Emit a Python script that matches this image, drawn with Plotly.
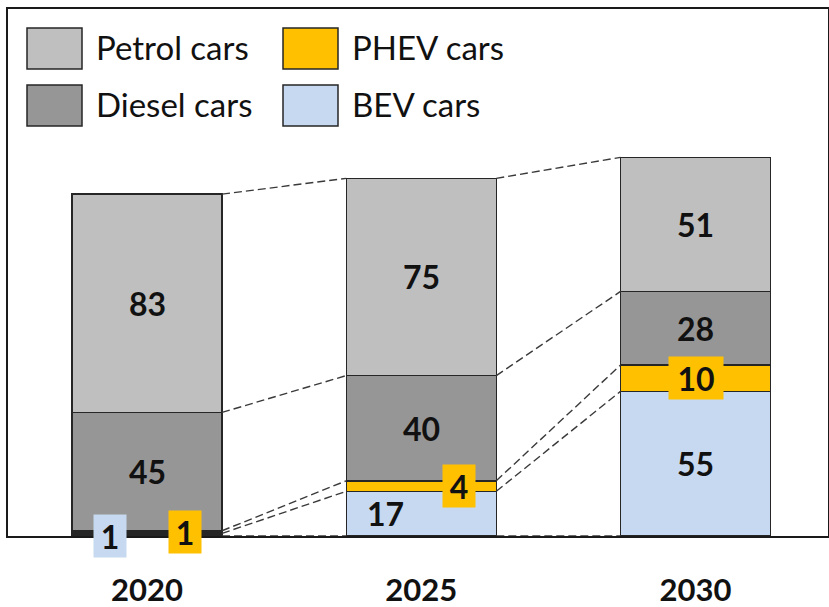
import plotly.graph_objects as go

# data (million cars)
years = ["2020", "2025", "2030"]
bev = [1, 17, 55]
phev = [1, 4, 10]
diesel = [45, 40, 28]
petrol = [83, 75, 51]

series = [
    ("BEV cars", bev, "#c6d9f0"),
    ("PHEV cars", phev, "#ffc000"),
    ("Diesel cars", diesel, "#969696"),
    ("Petrol cars", petrol, "#bfbfbf"),
]

FONT = "Lato"
OUTLINE = "#262626"
BAR_W = 0.547
W, H = 829, 607
L, R, T, B = 8, 1, 9, 71

xs = list(range(len(years)))

fig = go.Figure()
for name, vals, color in series:
    # thin slivers read as a heavy black edge in the original
    widths = [2.5 if v < 3 else 1.5 for v in vals]
    fig.add_trace(go.Bar(
        x=xs, y=vals, name=name, width=BAR_W,
        marker=dict(color=color, line=dict(color=OUTLINE, width=widths)),
        showlegend=False,
    ))

# cumulative boundaries per year for the dashed connectors
bounds = []
for i in xs:
    acc = [0]
    for _, vals, _ in series:
        acc.append(acc[-1] + vals[i])
    bounds.append(acc)

for i in xs[:-1]:
    for k in range(len(bounds[i])):
        fig.add_trace(go.Scatter(
            x=[i + BAR_W / 2, i + 1 - BAR_W / 2],
            y=[bounds[i][k], bounds[i + 1][k]],
            mode="lines", line=dict(color="#3a3a3a", width=1.4, dash="8px,4px"),
            showlegend=False, hoverinfo="skip",
        ))

# value labels
lab_font = dict(family=FONT, size=32, color="#111111")
boxed = {("BEV cars", 0): (-37, 0, 30), ("PHEV cars", 0): (38, 4, 30),
         ("PHEV cars", 1): (38, 0, 30), ("PHEV cars", 2): (0, 0, 52)}
offset = {("BEV cars", 1): -36}
for s, (name, vals, color) in enumerate(series):
    for i in xs:
        key = (name, i)
        yc = bounds[i][s] + vals[i] / 2
        text = "<b>%d</b>" % vals[i]
        if key in boxed:
            dx, dy, bw = boxed[key]
            if i == 0:
                yc = 0
            fig.add_annotation(x=i, y=yc, xref="x", yref="y", text=text, showarrow=False,
                               font=lab_font, bgcolor=color, width=bw, height=40,
                               xshift=dx, yshift=dy)
        else:
            fig.add_annotation(x=i, y=yc, xref="x", yref="y", text=text, showarrow=False,
                               font=lab_font, xshift=offset.get(key, 0))

# legend drawn as swatches + text
pw, ph = W - L - R, H - T - B


def px(x):
    return (x - L) / pw


def py(y):
    return (H - B - y) / ph


legend_items = [
    ("Petrol cars", "#bfbfbf", 27, 28),
    ("Diesel cars", "#969696", 27, 85),
    ("PHEV cars", "#ffc000", 283, 28),
    ("BEV cars", "#c6d9f0", 283, 85),
]
for name, color, lx, ly in legend_items:
    fig.add_shape(type="rect", xref="paper", yref="paper",
                  x0=px(lx), x1=px(lx + 55), y0=py(ly), y1=py(ly + 41),
                  fillcolor=color, line=dict(color=OUTLINE, width=1.5))
    fig.add_annotation(xref="paper", yref="paper", x=px(lx + 67), y=py(ly + 19),
                       xanchor="left", yanchor="middle", text=name, showarrow=False,
                       font=dict(family=FONT, size=33, color="#111111"))

fig.update_layout(
    barmode="stack",
    width=W, height=H, autosize=False,
    margin=dict(l=L, r=R, t=T, b=B),
    plot_bgcolor="white", paper_bgcolor="white",
    xaxis=dict(range=[-0.507, 2.483], tickvals=xs, ticktext=["<b>%s</b>" % y for y in years],
               tickfont=dict(family=FONT, size=31, color="#111111"), ticks="",
               ticklabelstandoff=26, showgrid=False, zeroline=False, automargin=False,
               showline=True, mirror=True, linecolor="#1a1a1a", linewidth=1.5),
    yaxis=dict(range=[0, 200.4], showticklabels=False, ticks="", showgrid=False, zeroline=False,
               automargin=False,
               showline=True, mirror=True, linecolor="#1a1a1a", linewidth=1.5),
)

# drop the browser's default body margin so the figure fills the window exactly
fig.write_html("out.html", config={"displayModeBar": False},
               post_script="document.body.style.margin='0';document.body.style.overflow='hidden';")
